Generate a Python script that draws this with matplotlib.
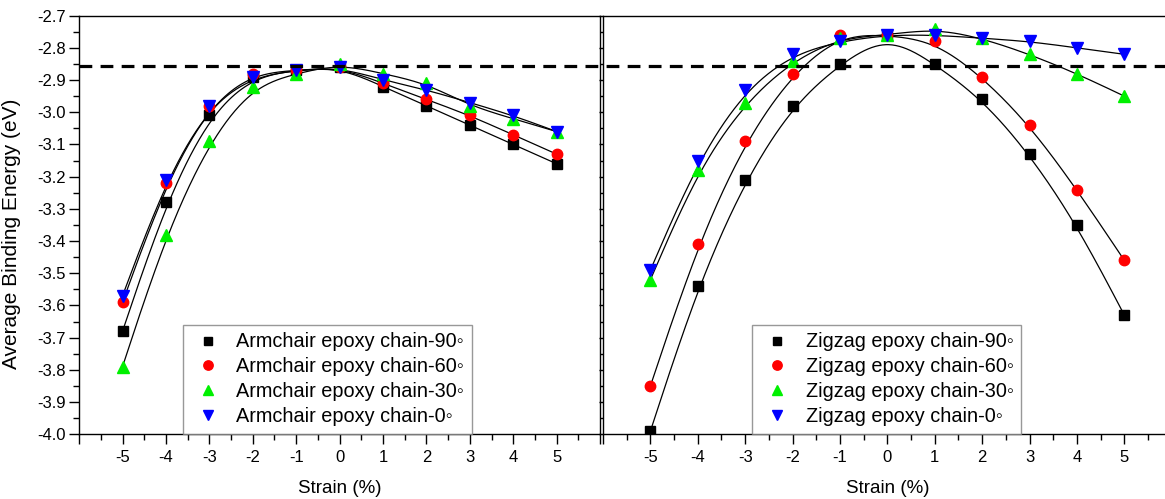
import numpy as np
import matplotlib
matplotlib.use('Agg')
import matplotlib.pyplot as plt
import matplotlib.transforms as mtransforms
from matplotlib.lines import Line2D
from matplotlib.ticker import FixedLocator, FixedFormatter, MultipleLocator, FormatStrFormatter

plt.rcParams['font.family'] = ['Liberation Sans', 'DejaVu Sans']
plt.rcParams['axes.linewidth'] = 1.0

strain = [-5, -4, -3, -2, -1, 0, 1, 2, 3, 4, 5]

# Armchair epoxy chains (left panel)
armchair_90 = [-3.68, -3.28, -3.01, -2.89, -2.87, -2.86, -2.92, -2.98, -3.04, -3.10, -3.16]
armchair_60 = [-3.59, -3.22, -2.98, -2.88, -2.87, -2.86, -2.91, -2.96, -3.01, -3.07, -3.13]
armchair_30 = [-3.79, -3.38, -3.09, -2.92, -2.88, -2.85, -2.88, -2.91, -2.98, -3.02, -3.06]
armchair_0 = [-3.57, -3.21, -2.98, -2.89, -2.87, -2.86, -2.90, -2.93, -2.97, -3.01, -3.06]

# Zigzag epoxy chains (right panel)
zigzag_90 = [-3.99, -3.54, -3.21, -2.98, -2.85, -2.76, -2.85, -2.96, -3.13, -3.35, -3.63]
zigzag_60 = [-3.85, -3.41, -3.09, -2.88, -2.76, -2.76, -2.78, -2.89, -3.04, -3.24, -3.46]
zigzag_30 = [-3.52, -3.18, -2.97, -2.84, -2.77, -2.76, -2.74, -2.77, -2.82, -2.88, -2.95]
zigzag_0 = [-3.49, -3.15, -2.93, -2.82, -2.78, -2.76, -2.76, -2.77, -2.78, -2.80, -2.82]

reference_energy = -2.855

armchair_labels = ['Armchair epoxy chain-90\u25e6', 'Armchair epoxy chain-60\u25e6',
                   'Armchair epoxy chain-30\u25e6', 'Armchair epoxy chain-0\u25e6']
zigzag_labels = ['Zigzag epoxy chain-90\u25e6', 'Zigzag epoxy chain-60\u25e6',
                 'Zigzag epoxy chain-30\u25e6', 'Zigzag epoxy chain-0\u25e6']

styles = [('s', '#000000', 7), ('o', '#ff0000', 7.5), ('^', '#00f000', 8.5), ('v', '#0000ff', 8.5)]


def bspline(xs, ys, n=40):
    # uniform cubic B-spline using the points as control points, clamped ends
    p = np.column_stack([xs, ys]).astype(float)
    p = np.vstack([p[0], p[0], p, p[-1], p[-1]])
    t = np.linspace(0, 1, n)
    b0 = (1 - t)**3 / 6
    b1 = (3 * t**3 - 6 * t**2 + 4) / 6
    b2 = (-3 * t**3 + 3 * t**2 + 3 * t + 1) / 6
    b3 = t**3 / 6
    segs = []
    for i in range(len(p) - 3):
        seg = (np.outer(b0, p[i]) + np.outer(b1, p[i + 1])
               + np.outer(b2, p[i + 2]) + np.outer(b3, p[i + 3]))
        segs.append(seg)
    out = np.vstack(segs)
    return out[:, 0], out[:, 1]


fig = plt.figure(figsize=(11.65, 4.99), dpi=100)
ax1 = fig.add_axes([0.0679, 0.1297, 0.4472, 0.8389])
ax2 = fig.add_axes([0.5176, 0.1297, 0.4882, 0.8389])


def draw_panel(ax, series, labels, legend_x):
    for ys, label, (m, c, ms) in zip(series, labels, styles):
        cx, cy = bspline(strain, ys)
        ax.plot(cx, cy, color='black', lw=0.9, zorder=2)
        ax.plot(strain, ys, linestyle='none', marker=m, color=c, markersize=ms,
                label=label, zorder=3)
    ax.set_xlim(-6, 6)
    ax.set_ylim(-4.0, -2.7)
    ax.xaxis.set_major_locator(FixedLocator(list(range(-6, 7))))
    ax.xaxis.set_major_formatter(FixedFormatter([''] + [str(v) for v in range(-5, 6)] + ['']))
    ax.xaxis.set_minor_locator(MultipleLocator(0.5))
    ax.yaxis.set_major_locator(MultipleLocator(0.1))
    ax.yaxis.set_minor_locator(MultipleLocator(0.05))
    ax.tick_params(axis='both', which='major', direction='out', length=7, width=1,
                   labelsize=12)
    ax.tick_params(axis='both', which='minor', direction='out', length=4, width=1)
    ax.tick_params(axis='x', pad=4)
    ax.set_xlabel('Strain (%)', fontsize=13.5, labelpad=11)
    leg = ax.legend(loc='lower left', bbox_to_anchor=(legend_x, 0.0), borderaxespad=0,
                    fontsize=14.3, frameon=True, fancybox=False, edgecolor='#7f7f7f',
                    handletextpad=0.6, labelspacing=0.3, borderpad=0.4,
                    handlelength=1.7, markerscale=0.9)
    leg.get_frame().set_linewidth(1.0)
    leg.set_zorder(5)


draw_panel(ax1, [armchair_90, armchair_60, armchair_30, armchair_0], armchair_labels, 0.199)
draw_panel(ax2, [zigzag_90, zigzag_60, zigzag_30, zigzag_0], zigzag_labels, 0.262)

ax1.yaxis.set_major_formatter(FormatStrFormatter('%.1f'))
ax1.tick_params(axis='y', pad=2.5)
ax1.set_ylabel('Average Binding Energy (eV)', fontsize=15)
ax1.yaxis.set_label_coords(-0.112, 0.48)

ax2.set_yticklabels([])
ax2.tick_params(axis='y', which='major', length=3)
ax2.tick_params(axis='y', which='minor', length=2)

# dashed reference line spanning both panels, drawn on the figure above the axes
trans = mtransforms.blended_transform_factory(fig.transFigure, ax1.transData)
ref_line = Line2D([0.0679, 1.0], [reference_energy, reference_energy], transform=trans,
                  color='black', lw=2.3, dashes=(4, 2.6), zorder=4)
fig.add_artist(ref_line)

fig.savefig('out.png', dpi=100)
